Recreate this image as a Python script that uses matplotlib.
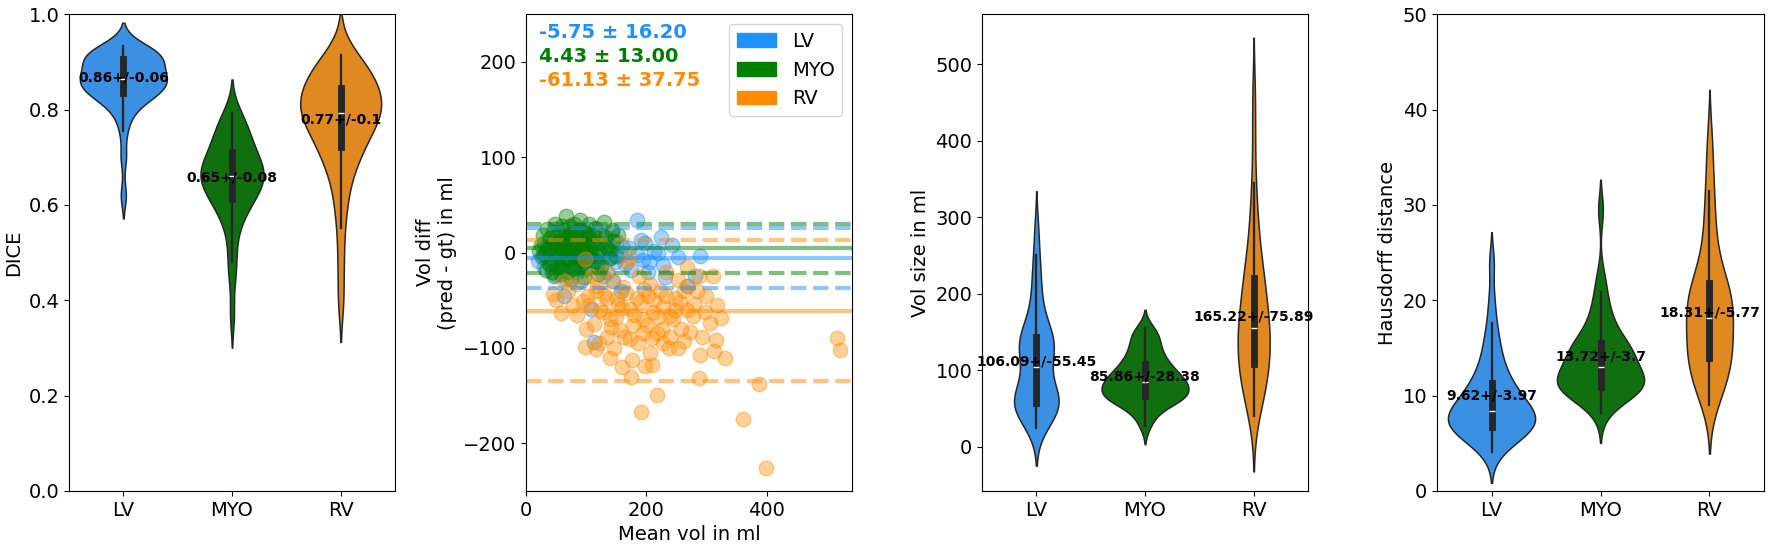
import matplotlib
matplotlib.use('Agg')
import matplotlib.pyplot as plt
from matplotlib.patches import Patch
import seaborn as sns
import numpy as np

structures = ['LV', 'MYO', 'RV']
palette = ['dodgerblue', 'green', 'darkorange']

# ---- DICE samples (estimated from violin shapes) ----
dice_lv = [0.62, 0.70, 0.755, 0.785, 0.80, 0.812, 0.82, 0.826, 0.83, 0.833,
           0.836, 0.840, 0.844, 0.848, 0.851, 0.854, 0.857, 0.859, 0.861, 0.862,
           0.865, 0.869, 0.873, 0.877, 0.881, 0.886, 0.891, 0.896, 0.901, 0.906,
           0.909, 0.911, 0.913, 0.915, 0.917, 0.919, 0.922, 0.925, 0.929, 0.934]
dice_myo = [0.37, 0.45, 0.48, 0.52, 0.55, 0.57, 0.585, 0.595, 0.60, 0.608,
            0.615, 0.622, 0.628, 0.634, 0.64, 0.645, 0.65, 0.654, 0.657, 0.66,
            0.663, 0.667, 0.671, 0.676, 0.68, 0.685, 0.69, 0.696, 0.703, 0.71,
            0.716, 0.723, 0.73, 0.738, 0.746, 0.755, 0.765, 0.775, 0.785, 0.794]
dice_rv = [0.40, 0.48, 0.552, 0.60, 0.63, 0.66, 0.68, 0.695, 0.705, 0.715,
           0.725, 0.735, 0.745, 0.755, 0.763, 0.77, 0.776, 0.782, 0.786, 0.79,
           0.795, 0.80, 0.805, 0.81, 0.815, 0.82, 0.826, 0.832, 0.838, 0.844,
           0.85, 0.856, 0.863, 0.87, 0.877, 0.884, 0.892, 0.90, 0.908, 0.914]
dice_means = [0.86, 0.65, 0.77]
dice_labels = ['0.86+/-0.06', '0.65+/-0.08', '0.77+/-0.1']

# ---- Volume samples ----
vol_lv = [24, 30, 36, 42, 46, 50, 52, 54, 55, 56,
          58, 60, 62, 64, 67, 71, 76, 82, 90, 100,
          108, 114, 119, 123, 127, 131, 135, 138, 140, 142,
          145, 150, 158, 168, 180, 195, 212, 230, 250, 285]
vol_myo = [27, 38, 46, 52, 56, 59, 61, 62.5, 63.5, 64.5,
           66, 68, 70, 72, 74, 76, 78, 80, 81.5, 83,
           85, 87, 89, 91, 93, 95, 98, 101, 104, 107,
           110, 114, 118, 123, 128, 133, 139, 145, 150, 155]
vol_rv = [40, 52, 62, 70, 77, 83, 89, 94, 99, 104,
          110, 115, 121, 127, 132, 137, 142, 146, 150, 153,
          158, 164, 170, 177, 184, 191, 198, 205, 212, 218,
          225, 234, 245, 258, 273, 292, 315, 345, 405, 462]
vol_means = [106.09, 85.86, 165.22]
vol_labels = ['106.09+/-55.45', '85.86+/-28.38', '165.22+/-75.89']

# ---- Hausdorff samples ----
hd_lv = [4.1, 4.8, 5.3, 5.7, 6.0, 6.2, 6.35, 6.45, 6.55, 6.65,
         6.8, 7.0, 7.2, 7.4, 7.6, 7.8, 8.0, 8.1, 8.2, 8.3,
         8.5, 8.7, 9.0, 9.3, 9.6, 9.9, 10.2, 10.5, 10.8, 11.2,
         11.6, 12.1, 12.7, 13.4, 14.2, 15.1, 16.2, 17.6, 20.0, 23.9]
hd_myo = [8.2, 9.3, 9.9, 10.2, 10.4, 10.55, 10.65, 10.72, 10.78, 10.82,
          11.0, 11.2, 11.4, 11.55, 11.7, 11.85, 12.0, 12.2, 12.5, 12.9,
          13.2, 13.5, 13.8, 14.0, 14.2, 14.5, 14.7, 14.9, 15.15, 15.4,
          15.7, 16.1, 16.6, 17.2, 17.9, 18.7, 19.6, 20.9, 22.5, 29.5]
hd_rv = [9.0, 9.8, 10.5, 11.1, 11.7, 12.2, 12.7, 13.1, 13.4, 13.7,
         14.1, 14.5, 14.9, 15.3, 15.8, 16.3, 16.8, 17.2, 17.6, 17.9,
         18.3, 18.7, 19.1, 19.5, 19.9, 20.3, 20.7, 21.0, 21.4, 21.7,
         22.2, 22.9, 23.9, 25.1, 26.4, 27.9, 29.7, 31.5, 34.0, 37.0]
hd_means = [9.62, 13.72, 18.31]
hd_labels = ['9.62+/-3.97', '13.72+/-3.7', '18.31+/-5.77']

# ---- Bland-Altman data ----
ba_means = [-5.75, 4.43, -61.13]
ba_sds = [16.20, 13.00, 37.75]
ba_texts = ['-5.75 ± 16.20', '4.43 ± 13.00', '-61.13 ± 37.75']

lv_x = [20, 28, 35, 40, 45, 50, 55, 60, 64, 68, 72, 76, 80, 85, 90, 95, 100, 105, 108, 110,
        113, 118, 122, 128, 132, 138, 145, 150, 158, 165, 172, 184, 192, 195, 203, 213, 220, 224, 228, 231,
        242, 253, 281, 290, 268, 158, 143, 101, 73, 91,
        30, 38, 48, 52, 58, 62, 66, 78, 83, 88, 93, 97, 103, 115, 120, 125, 135, 142, 148, 160,
        175, 185, 198, 205]
lv_d = [-9, -2, 5, -12, 8, -5, 12, -18, -45, 2, -8, 15, -3, -20, 6, -10, 20, -4, -59, 10,
        -94, -15, 3, -25, 8, -6, -30, 12, -2, -12, 5, 34, 13, -8, -20, 2, 0, 16, -13, -26,
        8, -5, -24, -3, -35, -40, 22, 25, 20, -30,
        -15, 3, -22, 10, -8, 4, -28, -14, 9, -4, 14, -18, 1, -8, 15, -12, -20, 3, -10, 7,
        -18, -2, 10, -10]
myo_x = [22, 27, 30, 33, 36, 40, 42, 45, 47, 50, 52, 55, 58, 60, 62, 64, 66, 67, 70, 72,
         74, 76, 78, 80, 82, 84, 86, 88, 90, 92, 95, 98, 100, 103, 106, 110, 114, 118, 122, 127,
         130, 135, 140, 145, 153, 120, 96, 75, 58, 105,
         25, 29, 32, 35, 38, 41, 44, 46, 49, 51, 54, 56, 59, 61, 63, 65, 68, 69, 71, 73,
         77, 79, 81, 83, 85, 87, 89, 91, 93, 97, 99, 101, 104, 108, 112, 116, 121, 125, 132, 138,
         143, 150]
myo_d = [2, -5, 10, -18, 4, 15, -10, 22, -25, 0, 8, -14, 18, 28, 3, -6, 12, 38, -20, 6,
         20, -2, 10, 30, -12, 16, 2, 24, -8, 8, 14, -16, 4, 20, -4, 10, 26, -10, 2, 18,
         32, 6, -6, 12, 18, -22, -26, -28, -22, 30,
         8, 18, -2, 25, -12, 5, -20, 12, 30, -8, 20, 2, -16, 10, 24, -12, 4, 16, -6, 28,
         14, -16, 4, 22, -4, 10, 34, -14, 0, 22, 8, -8, 14, 2, 18, -4, 10, -14, 16, 2,
         24, -4]
rv_x = [45, 59, 83, 95, 98, 98, 108, 116, 117, 123, 129, 134, 140, 143, 151, 156, 159, 162, 168, 173,
        173, 173, 176, 184, 192, 195, 195, 198, 203, 206, 206, 211, 217, 217, 223, 228, 228, 233, 239, 245,
        248, 253, 258, 262, 262, 267, 273, 279, 284, 287, 287, 290, 298, 306, 311, 312, 316, 325, 331, 361,
        387, 399, 517, 522, 153, 133, 113, 188, 238, 268, 63, 78, 103,
        85, 100, 105, 118, 122, 128, 135, 142, 146, 150, 160, 163, 167, 178, 180, 186, 190, 197, 201, 209,
        212, 219, 226, 232, 240, 247, 252, 256, 270, 278, 292, 300, 318, 140, 175, 210, 50, 70]
rv_d = [-43, -63, -33, -51, -7, -99, -25, -101, -40, -60, -44, -88, -70, -30, -48, -81, -120, -36, -10, -5,
        -59, -91, -113, -48, -167, -70, -84, -119, -45, -33, -105, -62, -84, -149, -40, -57, -95, -20, -66, -70,
        -48, -29, -80, -40, -93, -15, -83, -54, -40, -25, -132, -107, -62, -74, -25, -103, -92, -69, -111, -174,
        -138, -226, -89, -102, -55, -20, -75, -25, -100, -60, -30, -55, -45,
        -65, -80, -55, -35, -95, -62, -48, -78, -100, -68, -58, -88, -42, -76, -65, -95, -52, -38, -76, -90,
        -50, -68, -80, -45, -88, -60, -100, -52, -35, -66, -88, -45, -55, -110, -130, -118, -50, -40]

W, H, DPI = 1771, 547, 100
FS = 14
ANN_FS = 10
fig = plt.figure(figsize=(W / DPI, H / DPI), dpi=DPI)


def rect(l, r, t=14.3, b=491):
    return [l / W, 1 - b / H, (r - l) / W, (b - t) / H]


ax1 = fig.add_axes(rect(69, 395))
ax2 = fig.add_axes(rect(526, 852))
ax3 = fig.add_axes(rect(982, 1308))
ax4 = fig.add_axes(rect(1437, 1764))


def violin(ax, groups, widths, means, labels, ylabel, ylim):
    for i, (g, w) in enumerate(zip(groups, widths)):
        xs = [structures[i]] * len(g)
        try:
            sns.violinplot(x=xs, y=g, order=structures, color=palette[i], ax=ax,
                           inner='box', density_norm='width', width=w,
                           bw_adjust=0.8, cut=2, saturation=0.75, linewidth=1.1,
                           linecolor='#262626')
        except TypeError:
            sns.violinplot(x=xs, y=g, order=structures, color=palette[i], ax=ax,
                           inner='box', scale='width', width=w, cut=2)
    for i, (m, lab) in enumerate(zip(means, labels)):
        ax.text(i, m, lab, ha='center', va='baseline', fontsize=ANN_FS,
                fontweight='bold', color='black', zorder=10)
    ax.set_xlim(-0.5, 2.5)
    ax.set_ylim(ylim)
    ax.set_xlabel('')
    ax.set_ylabel(ylabel, fontsize=FS)
    ax.tick_params(labelsize=FS)


violin(ax1, [dice_lv, dice_myo, dice_rv], [0.8, 0.58, 0.745],
       dice_means, dice_labels, 'DICE', (0, 1.0))
violin(ax3, [vol_lv, vol_myo, vol_rv], [0.41, 0.8, 0.295],
       vol_means, vol_labels, 'Vol size in ml', (-58, 565))
violin(ax4, [hd_lv, hd_myo, hd_rv], [0.8, 0.8, 0.43],
       hd_means, hd_labels, 'Hausdorff distance', (0, 50))

# Bland-Altman
for xs, ds, c in zip([lv_x, myo_x, rv_x], [lv_d, myo_d, rv_d], palette):
    ax2.scatter(xs, ds, s=110, color=c, alpha=0.4)
for m, sd, c in zip(ba_means, ba_sds, palette):
    ax2.axhline(m, color=c, alpha=0.5, lw=3)
    ax2.axhline(m + 1.96 * sd, color=c, alpha=0.5, lw=3, ls='--')
    ax2.axhline(m - 1.96 * sd, color=c, alpha=0.5, lw=3, ls='--')
for k, (t, c) in enumerate(zip(ba_texts, palette)):
    ax2.text(0.04, 0.95 - 0.05 * k, t, transform=ax2.transAxes, color=c,
             fontsize=FS, fontweight='bold')
ax2.legend(handles=[Patch(color=c, label=s) for c, s in zip(palette, structures)],
           loc='upper right', fontsize=FS)
ax2.set_xlim(0, 542)
ax2.set_ylim(-250, 250)
ax2.set_xticks([0, 200, 400])
ax2.set_xlabel('Mean vol in ml', fontsize=FS)
ax2.set_ylabel('Vol diff\n(pred - gt) in ml', fontsize=FS)
ax2.tick_params(labelsize=FS)

fig.savefig('out.png', dpi=DPI)
